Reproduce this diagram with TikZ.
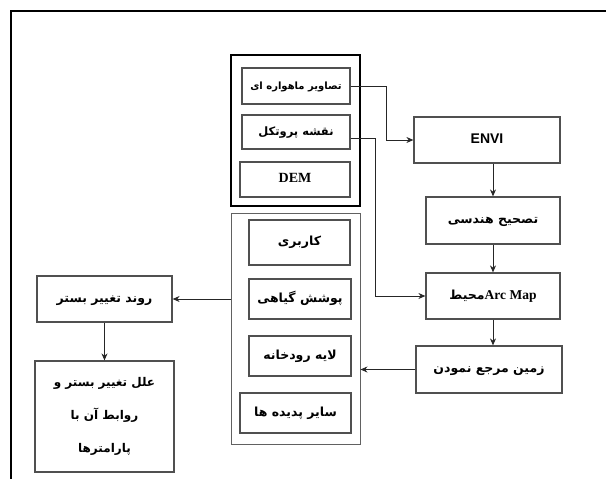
\documentclass[tikz,border=0pt]{standalone}
\usepackage{fontspec}
\usetikzlibrary{arrows.meta,calc}
\TeXXeTstate=1
\newfontfamily\fa[Script=Arabic]{DejaVu Sans}
\newfontfamily\serifb{Liberation Serif}
\newfontfamily\sansb{Liberation Sans}
\definecolor{boxgray}{HTML}{505050}
\tikzset{
  bx/.style={draw=boxgray, line width=1.2pt, minimum width=#1, inner sep=0pt, align=center, text height=1.5ex, text depth=0.1ex, font=\fa\bfseries\fontsize{12.5}{14}\selectfont},
  grpA/.style={draw=black, line width=2pt, inner sep=0pt},
  grpB/.style={draw=boxgray!90, line width=0.9pt, inner sep=0pt},
  arr/.style={draw=black!85, line width=0.9pt, -{Stealth[length=7pt,width=6pt]}},
  frame/.style={line width=2pt}
}
\newcommand{\rtl}[1]{\beginR #1\endR}
\begin{document}
\begin{tikzpicture}[x=1pt,y=-1pt]
\useasboundingbox (0,0) rectangle (606,479);
\draw[frame] (11,479) -- (11,11) -- (606,11);

% group 1
\node[grpA, minimum width=129pt, minimum height=151pt] (g1) at (295.5,130.5) {};
\node[bx=108pt, minimum height=36pt, font=\fa\bfseries\fontsize{10}{12}\selectfont] (sat) at (296,86) {\rtl{تصاویر ماهواره ای}};
\node[bx=108pt, minimum height=34pt, font=\fa\bfseries\fontsize{11.5}{13}\selectfont] (prot) at (296,132) {\rtl{نقشه پروتکل}};
\node[bx=110pt, minimum height=35pt, font=\serifb\bfseries\fontsize{14}{16}\selectfont] (dem) at (295,179.5) {DEM};

% group 2
\node[grpB, minimum width=129pt, minimum height=231pt] (g2) at (295.5,328.5) {};
\node[bx=101pt, minimum height=45pt] (kar) at (299.5,242.5) {\rtl{کاربری}};
\node[bx=102pt, minimum height=40pt] (push) at (300,299) {\rtl{پوشش گیاهی}};
\node[bx=102pt, minimum height=40pt] (laye) at (300,356) {\rtl{لایه رودخانه}};
\node[bx=111pt, minimum height=40pt] (sayer) at (295.5,413) {\rtl{سایر پدیده ها}};

% right column
\node[bx=146pt, minimum height=46pt, font=\sansb\bfseries\fontsize{14}{16}\selectfont] (envi) at (487,140) {ENVI};
\node[bx=134pt, minimum height=47pt] (tas) at (493,220.5) {\rtl{تصحیح هندسی}};
\node[bx=134pt, minimum height=46pt] (arc) at (493,296) {{\fa\bfseries\rtl{محیط}}{\serifb\bfseries\fontsize{13.5}{15}\selectfont Arc Map}};
\node[bx=146pt, minimum height=47pt] (zamin) at (489,369.5) {\rtl{زمین مرجع نمودن}};

% left column
\node[bx=135pt, minimum height=46pt] (ravand) at (104.5,299) {\rtl{روند تغییر بستر}};
\node[draw=boxgray, line width=1.2pt, minimum width=139pt, minimum height=111pt, inner sep=0pt, align=center, font=\fa\bfseries\fontsize{12}{33}\selectfont] (elal) at (104.5,416.5) {\rtl{علل تغییر بستر و}\\\rtl{روابط آن با}\\\rtl{پارامترها}};

% connectors
\draw[arr] (sat.east) -- ++(36,0) |- (envi.west);
\draw[arr] ($(prot.east)+(0,6)$) -- ++(25,0) |- (arc.west);
\draw[arr] (envi.south -| tas.north) -- (tas.north);
\draw[arr] (tas.south) -- (arc.north);
\draw[arr] (arc.south) -- (arc.south |- zamin.north);
\draw[arr] (zamin.west) -- (zamin.west -| g2.east);
\draw[arr] (g2.west |- ravand.east) -- (ravand.east);
\draw[arr] (ravand.south) -- (elal.north);
\end{tikzpicture}
\end{document}
